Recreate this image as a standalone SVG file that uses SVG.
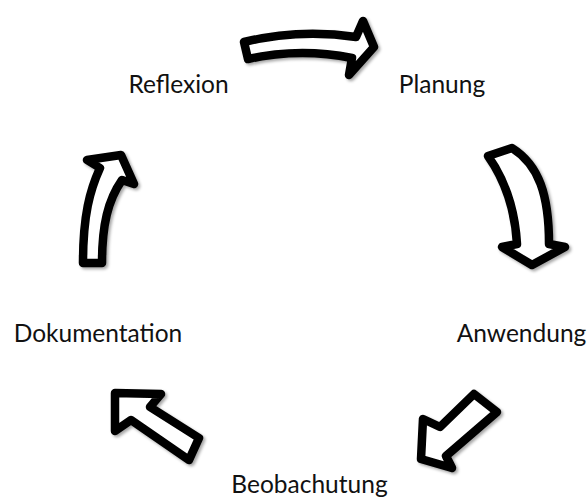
<svg xmlns="http://www.w3.org/2000/svg" width="588" height="500" viewBox="0 0 588 500">
  <style>
    .lbl { font-family: Lato, "Open Sans", "Liberation Sans", sans-serif; font-size: 24.5px; fill: #111; text-anchor: middle; }
    .arr { fill: #fff; stroke: #000; stroke-width: 8.5; stroke-linejoin: round; filter: url(#sh); }
  </style>
  <defs>
    <filter id="sh" x="-20%" y="-20%" width="140%" height="140%">
      <feDropShadow dx="2" dy="2" stdDeviation="1.8" flood-color="#000" flood-opacity="0.35"/>
    </filter>
  </defs>
  <rect width="588" height="500" fill="#fff"/>
  <g id="connectors">
    <path class="arr" d="M244,42 Q300,28.5 356,37 L363,21 L374,47 L349,75 L352,58 Q300,47.5 248,59 Z"/>
    <path class="arr" d="M488,156 C505,180 515,210 517,244 L502,247 L532,265 L565,247 L549,244 C549,195 539,165 512,148 Z"/>
    <path class="arr" d="M474,394 L440,427 L423,419 L421,459 L452,468 L446,456 L497,412 Z"/>
    <path class="arr" d="M199,438 L150,407 L161,394 L115,393 L115,431 L131,420 L189,460 Z"/>
    <path class="arr" d="M83,263 C83,215 90,190 100,168 L87,160 L121,155 L134,184 L122,180 C108,200 102,225 102,263 Z"/>
  </g>
  <g id="reflexion"><text class="lbl" x="178.5" y="93">Reflexion</text></g>
  <g id="planung"><text class="lbl" x="442" y="93">Planung</text></g>
  <g id="anwendung"><text class="lbl" x="521.5" y="342">Anwendung</text></g>
  <g id="beobachutung"><text class="lbl" x="309.5" y="493">Beobachutung</text></g>
  <g id="dokumentation"><text class="lbl" x="98" y="342">Dokumentation</text></g>
</svg>
